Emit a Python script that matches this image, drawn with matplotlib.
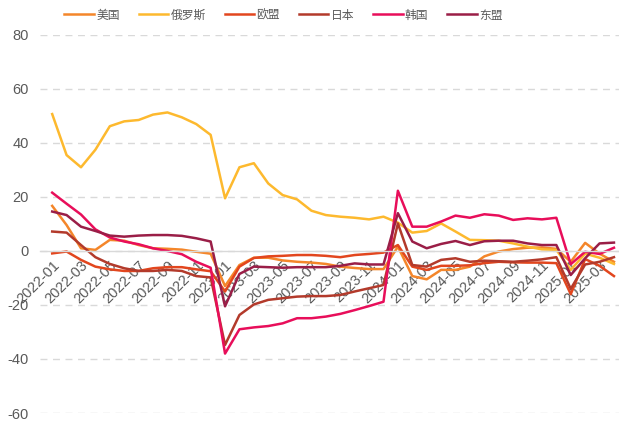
import matplotlib.pyplot as plt
import numpy as np

plt.rcParams['font.family'] = ['Noto Sans CJK SC', 'DejaVu Sans']

months = [f"{y}-{m:02d}" for y in range(2022, 2026) for m in range(1, 13)][:40]

us = [16.7, 9.6, 1.0, 0.4, 4.1, 3.8, 2.2, 1.0, 0.8, 0.5, -0.3, -1.0,
      -13.0, -5.2, -2.5, -2.5, -3.5, -4.0, -4.3, -4.8, -5.8, -6.3, -6.7, -6.7,
      1.6, -9.3, -10.5, -7.0, -7.0, -5.8, -2.0, -0.2, 0.7, 1.2, 1.3, 0.8,
      -4.0, 3.0, -1.0, -4.0]
russia = [50.7, 35.5, 31.0, 37.5, 46.2, 48.0, 48.5, 50.5, 51.3, 49.5, 47.0, 43.0,
          19.5, 31.0, 32.5, 25.0, 20.7, 19.1, 14.9, 13.3, 12.7, 12.3, 11.7, 12.7,
          10.5, 6.8, 7.4, 10.2, 7.2, 4.1, 4.0, 3.8, 2.8, 1.6, 0.6, 0.4,
          -7.0, -1.0, -2.5, -4.8]
eu = [-0.9, -0.2, -3.3, -5.8, -6.8, -7.4, -7.4, -6.4, -6.0, -6.0, -6.8, -7.5,
      -15.0, -5.8, -2.6, -2.0, -1.8, -1.5, -1.5, -1.8, -2.3, -1.5, -1.1, -0.6,
      2.2, -5.8, -7.0, -5.5, -5.5, -5.3, -4.5, -4.0, -4.2, -4.3, -4.3, -4.5,
      -16.0, -3.0, -5.5, -9.3]
japan = [7.2, 6.8, 2.2, -2.3, -4.8, -6.4, -7.4, -7.4, -7.0, -7.4, -9.3, -9.8,
         -34.8, -23.7, -19.8, -18.1, -17.5, -16.9, -16.7, -16.7, -16.3, -15.0, -13.8, -12.6,
         10.2, -5.2, -5.8, -3.3, -2.7, -4.0, -3.6, -3.8, -4.0, -3.6, -3.1, -2.3,
         -14.0, -5.0, -4.0, -2.3]
korea = [21.6, 17.5, 13.5, 8.0, 5.0, 3.5, 2.5, 1.0, 0.0, -1.2, -4.0, -6.2,
         -38.0, -29.0, -28.3, -27.8, -26.8, -24.9, -24.9, -24.3, -23.3, -21.9, -20.4, -18.8,
         22.3, 9.0, 9.0, 10.9, 13.1, 12.3, 13.6, 13.1, 11.5, 12.1, 11.7, 12.3,
         -4.9, -0.3, -1.1, 1.2]
asean = [14.6, 13.3, 9.0, 7.4, 5.7, 5.3, 5.7, 5.9, 5.9, 5.6, 4.7, 3.5,
         -20.5, -8.5, -5.8, -6.0, -6.2, -6.0, -6.0, -6.0, -5.5, -4.6, -5.0, -5.0,
         14.0, 3.5, 1.0, 2.6, 3.7, 2.2, 3.6, 3.8, 3.8, 2.8, 2.2, 2.2,
         -8.9, -2.7, 2.8, 3.1]

names = ['美国', '俄罗斯', '欧盟', '日本', '韩国', '东盟']
series = [us, russia, eu, japan, korea, asean]
colors = ['#F4862A', '#FDB92E', '#E2461E', '#B33A2B', '#E80E5A', '#9A1E47']

fig = plt.figure(figsize=(6.19, 4.21), dpi=100)
ax = fig.add_axes([0.065, 0.019, 0.935, 0.898])

# spine position first, it resets the ticks
for s in ['top', 'right', 'left']:
    ax.spines[s].set_visible(False)
ax.spines['bottom'].set_position(('data', 0))
ax.spines['bottom'].set_color('#D9D9D9')
ax.spines['bottom'].set_linewidth(1.0)

x = np.arange(len(months))
for vals, name, c in zip(series, names, colors):
    ax.plot(x, vals, color=c, lw=1.8, label=name)

ax.set_ylim(-60, 80)
ax.set_yticks(range(-60, 81, 20))
ax.set_xlim(-0.83, 39.35)
ax.set_xticks(x[::2])
ax.set_xticklabels(months[::2], rotation=45, ha='right', va='top', rotation_mode='anchor',
                   family=['Liberation Sans', 'DejaVu Sans'])
ax.set_yticklabels(ax.get_yticks().astype(int), family=['Liberation Sans', 'DejaVu Sans'])
ax.tick_params(axis='x', length=0, pad=5, labelsize=10.5, labelcolor='#595959')
ax.tick_params(axis='y', length=0, pad=8, labelsize=10.5, labelcolor='#595959')

ax.grid(axis='y', color='#D9D9D9', ls=(0, (5, 4)), lw=1.0)
ax.set_axisbelow(True)

fig.legend(loc='upper center', bbox_to_anchor=(0.458, 1.005), ncol=6, frameon=False,
           fontsize=8.5, handlelength=2.5, handletextpad=0.2, columnspacing=1.6,
           labelcolor='#595959')

fig.savefig('out.png', dpi=100)
